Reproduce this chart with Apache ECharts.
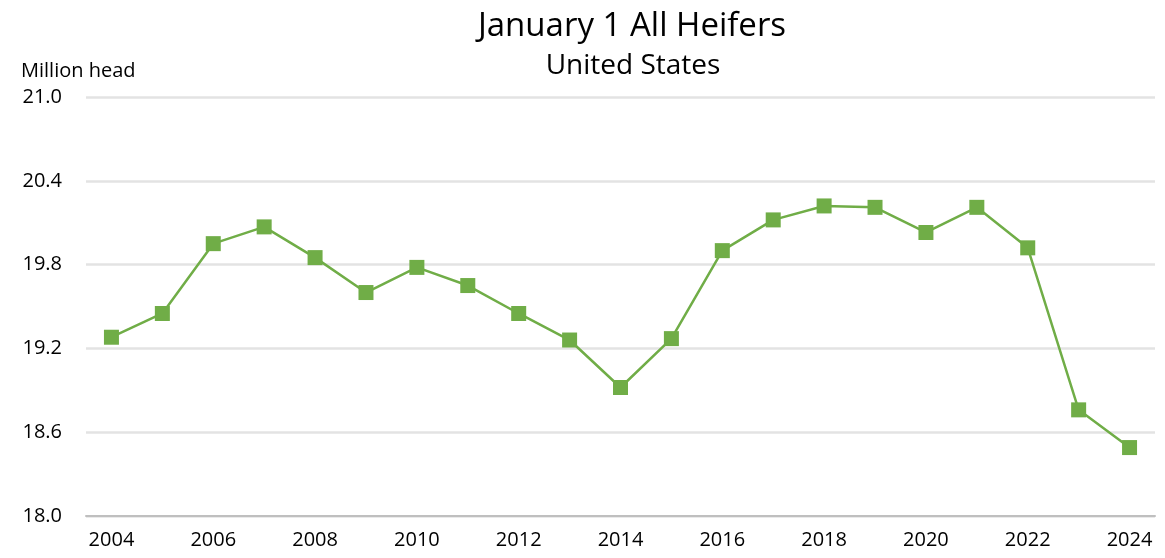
<!DOCTYPE html>
<html>
<head>
<meta charset="utf-8">
<script src="https://cdn.jsdelivr.net/npm/echarts@6/dist/echarts.min.js"></script>
<style>
  html, body { margin: 0; padding: 0; background: #fff; }
  #chart { width: 1165px; height: 558px; }
</style>
</head>
<body>
<div id="chart"></div>
<script>
const years = ['2004','2005','2006','2007','2008','2009','2010','2011','2012','2013','2014',
  '2015','2016','2017','2018','2019','2020','2021','2022','2023','2024'];
const heifers = [19.28, 19.45, 19.95, 20.07, 19.85, 19.60, 19.78, 19.65, 19.45, 19.26, 18.92,
  19.27, 19.90, 20.12, 20.22, 20.21, 20.03, 20.21, 19.92, 18.76, 18.49];
const yTicks = { min: 18.0, max: 21.0, step: 0.6 };

const font = '"Open Sans", Lato, sans-serif';
const chart = echarts.init(document.getElementById('chart'));
chart.setOption({
  backgroundColor: '#fff',
  animation: false,
  title: [
    {
      text: 'January 1 All Heifers',
      left: 627, top: 5, textAlign: 'center',
      textStyle: { fontFamily: font, fontSize: 33, fontWeight: 'normal', color: '#000' }
    },
    {
      text: 'United States',
      left: 628, top: 47, textAlign: 'center',
      textStyle: { fontFamily: font, fontSize: 28, fontWeight: 'normal', color: '#000' }
    },
    {
      text: 'Million head',
      left: 16, top: 56,
      textStyle: { fontFamily: font, fontSize: 20, fontWeight: 'normal', color: '#000' }
    }
  ],
  grid: { left: 86, right: 10, top: 97, bottom: 42 },
  xAxis: {
    type: 'category',
    data: years,
    boundaryGap: true,
    axisLine: { show: true, lineStyle: { color: '#bfbfbf', width: 2 } },
    axisTick: { show: false },
    axisLabel: { interval: 1, margin: 14, color: '#000', fontFamily: font, fontSize: 20 }
  },
  yAxis: {
    type: 'value',
    min: yTicks.min, max: yTicks.max, interval: yTicks.step,
    axisLine: { show: false },
    axisTick: { show: false },
    axisLabel: {
      margin: 24, color: '#000', fontFamily: font, fontSize: 20,
      formatter: v => v.toFixed(1)
    },
    splitLine: { lineStyle: { color: '#e3e3e3', width: 2.5 } }
  },
  series: [{
    type: 'line',
    data: heifers,
    symbol: 'rect',
    symbolSize: 15,
    lineStyle: { color: '#70ad47', width: 2.5 },
    itemStyle: { color: '#70ad47' }
  }]
});
</script>
</body>
</html>
